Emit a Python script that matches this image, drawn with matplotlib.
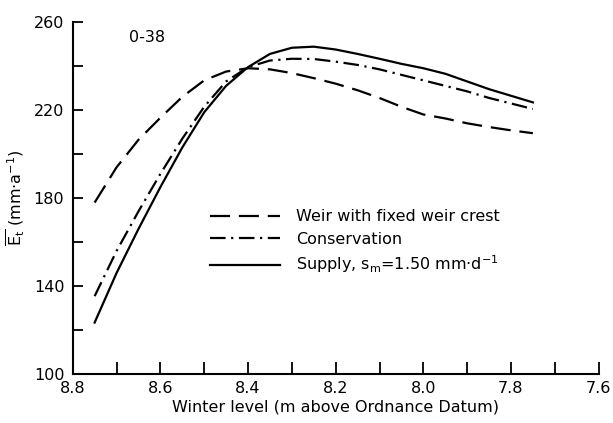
import matplotlib
matplotlib.use("Agg")
import matplotlib.pyplot as plt
from matplotlib.ticker import MultipleLocator, FixedLocator

# Winter level (m above Ordnance Datum)
level = [8.75, 8.70, 8.65, 8.60, 8.55, 8.50, 8.45, 8.40, 8.35, 8.30, 8.25,
         8.20, 8.15, 8.10, 8.05, 8.00, 7.95, 7.90, 7.85, 7.80, 7.75]

# Mean annual evapotranspiration (mm/a) for each water-management option
weir = [178.0, 194.0, 206.5, 216.5, 226.0, 233.5, 237.5, 239.0, 238.5, 236.8, 234.5,
        232.0, 229.0, 225.5, 221.5, 218.0, 216.2, 214.0, 212.3, 210.8, 209.5]
conservation = [135.5, 156.0, 174.0, 191.0, 207.0, 221.5, 233.0, 239.5, 242.5, 243.3, 243.2,
                242.0, 240.5, 238.5, 236.0, 233.5, 231.0, 228.5, 225.5, 223.0, 220.5]
supply = [123.5, 146.0, 166.0, 185.0, 203.0, 219.0, 231.0, 239.5, 245.5, 248.3, 248.8,
          247.5, 245.5, 243.3, 241.0, 239.0, 236.5, 233.0, 229.5, 226.5, 223.5]

y_major = [100, 140, 180, 220, 260]
y_minor = [120, 160, 200, 240]

labels = ["Weir with fixed weir crest", "Conservation",
          r"Supply, s$_\mathrm{m}$=1.50 mm$\cdot$d$^{-1}$"]

fig = plt.figure(figsize=(6.13, 4.23), dpi=100)
ax = fig.add_axes([0.1186, 0.115, 0.858, 0.833])

lw = 1.6
ax.plot(level, weir, color="black", lw=lw, dashes=(9, 4), label=labels[0])
ax.plot(level, conservation, color="black", lw=lw, dashes=(7, 2.5, 1, 2.5), label=labels[1])
ax.plot(level, supply, color="black", lw=lw, label=labels[2])

ax.set_xlim(8.8, 7.6)
ax.set_ylim(100, 260)

ax.xaxis.set_major_locator(MultipleLocator(0.2))
ax.xaxis.set_minor_locator(MultipleLocator(0.1))
ax.yaxis.set_major_locator(FixedLocator(y_major))
ax.yaxis.set_minor_locator(FixedLocator(y_minor))
ax.xaxis.set_major_formatter(plt.FuncFormatter(lambda v, p: f"{v:.1f}"))

for side in ("top", "right"):
    ax.spines[side].set_visible(False)
for side in ("left", "bottom"):
    ax.spines[side].set_linewidth(1.5)

ax.tick_params(axis="both", which="both", direction="in", width=1.3, labelsize=11.5)
ax.tick_params(axis="x", which="both", length=8.5, pad=5)
ax.tick_params(axis="y", which="both", length=7, pad=6)

ax.set_xlabel("Winter level (m above Ordnance Datum)", fontsize=11.5, labelpad=2)
ax.set_ylabel(r"$\overline{\mathrm{E}_\mathrm{t}}$ (mm$\cdot$a$^{-1}$)", fontsize=11.5,
              labelpad=5)

ax.text(0.107, 0.955, "0-38", transform=ax.transAxes, fontsize=11.5, va="center", ha="left")

ax.legend(loc="upper left", bbox_to_anchor=(0.24, 0.5), frameon=False, fontsize=11.5,
          handlelength=4.4, handletextpad=1.0, labelspacing=0.45, borderpad=0.2)

fig.savefig("out.png", dpi=100)
